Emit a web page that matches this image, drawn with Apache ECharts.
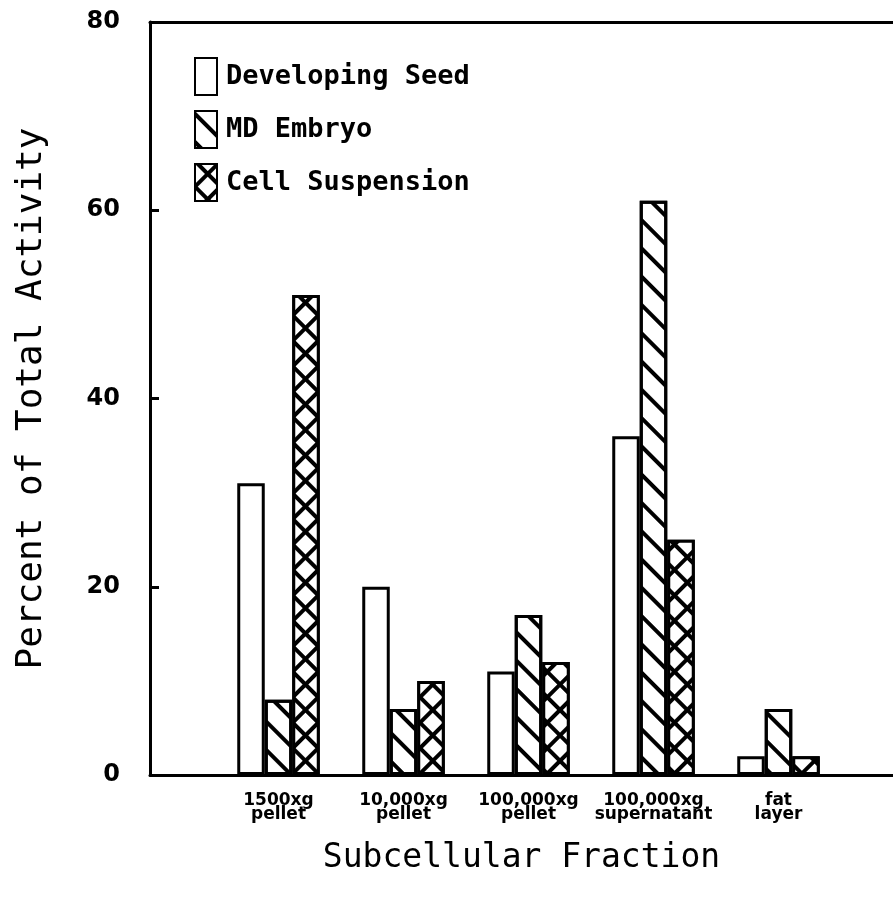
<!DOCTYPE html>
<html>
<head>
<meta charset="utf-8">
<script src="https://cdn.jsdelivr.net/npm/echarts@6/dist/echarts.min.js"></script>
<style>html,body{margin:0;padding:0;background:#fff;}#c{width:893px;height:898px;}</style>
</head>
<body>
<div id="c"></div>
<script>
const categories = ['1500xg\npellet', '10,000xg\npellet', '100,000xg\npellet', '100,000xg\nsupernatant', 'fat\nlayer'];
const developingSeed = [31, 20, 11, 36, 2];
const mdEmbryo = [8, 7, 17, 61, 7];
const cellSuspension = [51, 10, 12, 25, 2];
const seriesNames = ['Developing Seed', 'MD Embryo', 'Cell Suspension'];
const yMin = 0, yMax = 80, yStep = 20;
const yTitle = 'Percent of Total Activity';
const xTitle = 'Subcellular Fraction';

const chart = echarts.init(document.getElementById('c'), null, {renderer: 'canvas'});

const hatch = {
  symbol: 'rect', symbolSize: 1, color: '#000', backgroundColor: null,
  dashArrayX: [1, 0], dashArrayY: [3.5, 15.5], rotation: Math.PI / 4
};
const cross = {
  symbol: 'rect', symbolSize: 1, color: '#fff', backgroundColor: '#000',
  dashArrayX: [13.5, 3.5], dashArrayY: [13.5, 3.5], rotation: Math.PI / 4
};

function barSeries(name, data, decal) {
  const s = {
    name: name, type: 'bar', xAxisIndex: 2, yAxisIndex: 1,
    data: data, barWidth: 27.5, barGap: '0%',
    itemStyle: {color: '#fff', borderColor: '#000', borderWidth: 3},
    emphasis: {disabled: true}, silent: true, animation: false
  };
  if (decal) s.itemStyle.decal = decal;
  return s;
}

const option = {
  backgroundColor: '#fff',
  animation: false,
  grid: [
    {left: 150, right: 0, top: 22, bottom: 123, containLabel: false, outerBoundsMode: 'none'},
    {left: 216, right: 52, top: 22, bottom: 123, containLabel: false, outerBoundsMode: 'none'}
  ],
  legend: {
    orient: 'vertical', left: 189, top: 52,
    icon: 'rect', itemWidth: 22, itemHeight: 37, itemGap: 14,
    data: seriesNames,
    textStyle: {fontFamily: 'DejaVu Sans Mono', fontWeight: 'bold', fontSize: 27, color: '#000', padding: [0, 0, 0, 4]},
    selectedMode: false
  },
  xAxis: [
    {gridIndex: 0, type: 'value', min: 0, max: 1, position: 'bottom',
     axisLine: {show: true, lineStyle: {color: '#000', width: 3}},
     axisTick: {show: false}, axisLabel: {show: false}, splitLine: {show: false},
     name: xTitle, nameLocation: 'middle', nameGap: 67,
     nameTextStyle: {fontFamily: 'DejaVu Sans Mono', fontSize: 33, color: '#000'}},
    {gridIndex: 0, type: 'value', min: 0, max: 1, position: 'top',
     axisLine: {show: true, lineStyle: {color: '#000', width: 3}},
     axisTick: {show: false}, axisLabel: {show: false}, splitLine: {show: false}},
    {gridIndex: 1, type: 'category', data: categories, position: 'bottom',
     axisLine: {show: false}, axisTick: {show: false},
     axisLabel: {show: true, interval: 0, margin: 19, color: '#000',
       fontFamily: 'DejaVu Sans', fontWeight: 'bold', fontSize: 17, lineHeight: 14}}
  ],
  yAxis: [
    {gridIndex: 0, type: 'value', min: yMin, max: yMax, interval: yStep,
     axisLine: {show: true, lineStyle: {color: '#000', width: 3}},
     axisTick: {show: true, inside: true, length: 9, lineStyle: {color: '#000', width: 3}},
     axisLabel: {show: true, margin: 30, color: '#000', fontFamily: 'DejaVu Sans', fontWeight: 'bold', fontSize: 24},
     splitLine: {show: false},
     name: yTitle, nameLocation: 'middle', nameGap: 100, nameRotate: 90,
     nameTextStyle: {fontFamily: 'DejaVu Sans Mono', fontSize: 36, color: '#000'}},
    {gridIndex: 1, type: 'value', min: yMin, max: yMax, interval: yStep, show: false}
  ],
  series: [
    barSeries(seriesNames[0], developingSeed, null),
    barSeries(seriesNames[1], mdEmbryo, hatch),
    barSeries(seriesNames[2], cellSuspension, cross)
  ]
};
chart.setOption(option);
</script>
</body>
</html>
